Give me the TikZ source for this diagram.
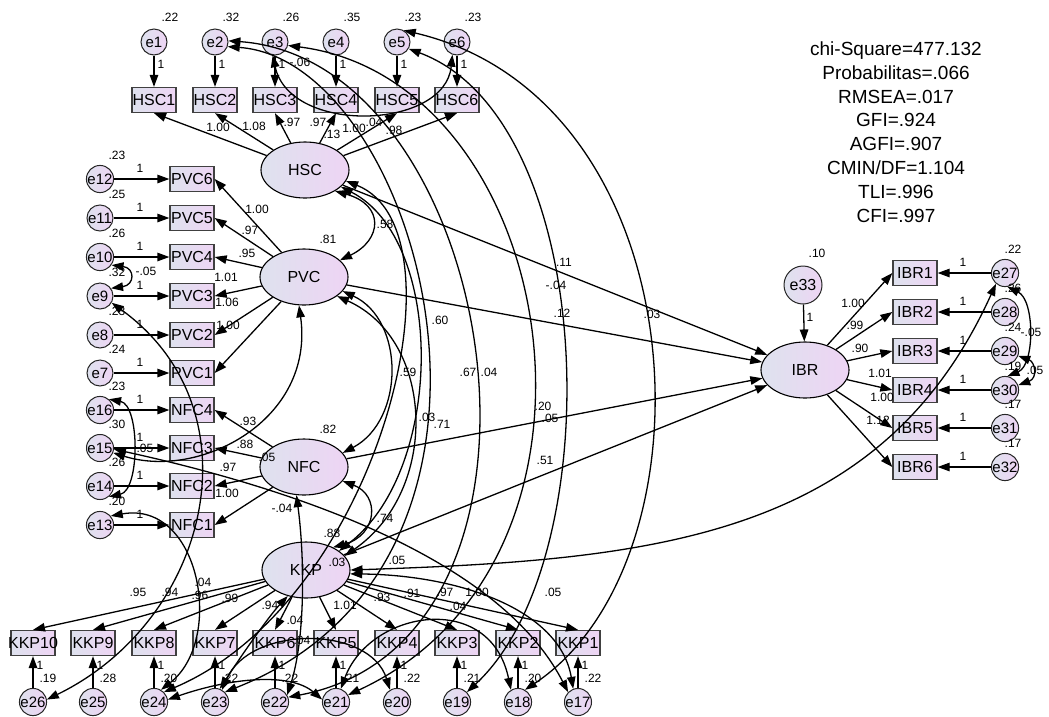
\documentclass[tikz,border=0pt]{standalone}
\usepackage{fontspec}
\setmainfont{Liberation Sans}
\usetikzlibrary{arrows.meta,shapes.geometric,shadings}
\definecolor{bl}{RGB}{222,226,238}
\definecolor{pk}{RGB}{238,212,244}
\begin{document}
\begin{tikzpicture}[x=1pt,y=-1pt,
  every node/.style={font=\fontsize{16}{19}\selectfont},
  box/.style={rectangle, draw=black!75, line width=1.3pt, minimum width=44pt, minimum height=25pt, inner sep=0pt, left color=bl, right color=pk},
  err/.style={circle, draw=black!85, line width=1pt, minimum size=26pt, inner sep=0pt, left color=bl, right color=pk, font=\fontsize{15}{17}\selectfont},
  lat/.style={ellipse, draw=black, line width=1.1pt, minimum width=88pt, minimum height=56pt, inner sep=0pt, left color=bl, right color=pk},
  arr/.style={-{Triangle[length=12pt,width=8.5pt]}, line width=1.3pt},
  cov/.style={{Triangle[length=12pt,width=8.5pt]}-{Triangle[length=12pt,width=8.5pt]}, line width=1.3pt},
  lbl/.style={font=\fontsize{12}{13}\selectfont, inner sep=0pt},
  stat/.style={font=\fontsize{19}{22}\selectfont, inner sep=0pt, anchor=base}
]
\useasboundingbox (0,0) rectangle (1049,716);

% latent variables
\node[lat] (HSC) at (305,170) {HSC};
\node[lat] (PVC) at (304,277) {PVC};
\node[lat] (NFC) at (304,467) {NFC};
\node[lat] (KKP) at (306,570) {KKP};
\node[lat] (IBR) at (805,370) {IBR};
\node[err, minimum size=38pt, font=\fontsize{16}{19}\selectfont] (e33) at (803,285) {e33};

% HSC indicators
\foreach \i/\x/\vv in {1/154/.22,2/215/.32,3/275/.26,4/336/.35,5/397/.23,6/457/.23}{
  \node[box] (HSC\i) at (\x,100) {\makebox[42pt]{HSC\i}};
  \node[err] (e\i) at (\x,42) {e\i};
  \draw[arr] (e\i) -- (HSC\i);
  \node[lbl] at (\x+16,17) {\vv};
  \node[lbl] at (\x+7,64) {1};
}
% PVC / NFC indicators
\foreach \nm/\ee/\y/\vv in {PVC6/12/179/.23,PVC5/11/218/.25,PVC4/10/257/.26,PVC3/9/296/.32,PVC2/8/335/.23,PVC1/7/373/.24,NFC4/16/410/.23,NFC3/15/448/.30,NFC2/14/486/.26,NFC1/13/525/.20}{
  \node[box] (\nm) at (192,\y) {\makebox[42pt]{\nm}};
  \node[err] (e\ee) at (100,\y) {e\ee};
  \draw[arr] (e\ee) -- (\nm);
  \node[lbl] at (140,\y-11) {1};
  \node[lbl] at (117,\y-24) {\vv};
}
% KKP indicators
\foreach \nm/\ee/\x/\vv in {KKP10/26/33/.19,KKP9/25/93/.28,KKP8/24/154/.20,KKP7/23/215/.22,KKP6/22/275/.22,KKP5/21/336/.21,KKP4/20/397/.22,KKP3/19/457/.21,KKP2/18/518/.20,KKP1/17/578/.22}{
  \node[box] (\nm) at (\x,643) {\makebox[42pt]{\nm}};
  \node[err] (e\ee) at (\x,702) {e\ee};
  \draw[arr] (e\ee) -- (\nm);
  \node[lbl] at (\x+7,665) {1};
  \node[lbl] at (\x+15,678) {\vv};
}
% IBR indicators
\foreach \k/\ee/\y/\vv in {1/27/273/.22,2/28/312/.26,3/29/351/.24,4/30/390/.19,5/31/428/.17,6/32/467/.17}{
  \node[box] (IBR\k) at (915,\y) {\makebox[42pt]{IBR\k}};
  \node[err] (e\ee) at (1005,\y) {e\ee};
  \draw[arr] (e\ee) -- (IBR\k);
  \node[lbl] at (963,\y-11) {1};
  \node[lbl] at (1013,\y-24) {\vv};
}

% loadings
\foreach \i in {1,...,6} \draw[arr] (HSC) -- (HSC\i.south);
\foreach \i in {1,...,6} \draw[arr] (PVC) -- (PVC\i.east);
\foreach \i in {1,...,4} \draw[arr] (NFC) -- (NFC\i.east);
\foreach \i in {1,...,10} \draw[arr] (KKP) -- (KKP\i.north);
\foreach \i in {1,...,6} \draw[arr] (IBR) -- (IBR\i.west);
\draw[arr] (e33) -- (IBR);

% structural paths
\draw[arr] (HSC) -- (IBR);
\draw[arr] (PVC) -- (IBR);
\draw[arr] (NFC) -- (IBR);
\draw[arr] (KKP) -- (IBR);

% latent covariances
\draw[cov] (HSC.-35) .. controls (385,205) and (382,240) .. (PVC.25);
\draw[cov] (PVC.-20) .. controls (405,320) and (405,420) .. (NFC.20);
\draw[cov] (NFC.-20) .. controls (380,495) and (378,535) .. (KKP.40);
\draw[cov] (HSC.-25) .. controls (445,240) and (445,470) .. (KKP.30);
\draw[cov] (PVC.-30) .. controls (435,340) and (440,490) .. (KKP.20);
\draw[cov] (HSC.-15) .. controls (470,230) and (380,600) .. (e24.45);

% long error covariances
\draw[cov] (e5.60) .. controls (700,100) and (720,560) .. (e18.60);
\draw[cov] (e5.-30) .. controls (600,120) and (610,560) .. (e19.45);
\draw[cov] (e3.-15) .. controls (560,80) and (640,560) .. (e21.30);
\draw[cov] (e2.5) .. controls (500,60) and (590,640) .. (e22.20);
\draw[cov] (e2.-20) .. controls (420,60) and (560,560) .. (e23.45);
\draw[cov] (e3.-100) .. controls (290,135) and (445,130) .. (e6.-110);

% bottom covariances
\draw[cov] (e24.10) .. controls (230,678) and (290,672) .. (e21.170);
\draw[cov] (e23.60) .. controls (250,625) and (370,625) .. (e20.120);
\draw[cov] (e21.70) .. controls (370,610) and (490,590) .. (e18.120);
\draw[cov] (KKP.-125) .. controls (270,615) and (245,650) .. (e23.70);
\draw[cov] (KKP.-5) .. controls (460,575) and (560,610) .. (e17.110);
\draw[cov] (KKP.0) .. controls (650,560) and (880,540) .. (e27.-130);
\draw[cov] (e15.-5) .. controls (300,490) and (500,560) .. (e17.135);
\draw[cov] (NFC.-105) .. controls (305,560) and (305,640) .. (e22.30);

% left covariances
\draw[cov] (e10.-35) .. controls (135,268) and (135,285) .. (e9.35);
\draw[cov] (e16.50) .. controls (140,405) and (140,490) .. (e14.-50);
\draw[cov] (e9.-30) .. controls (260,410) and (210,620) .. (e26.10);
\draw[cov] (e13.40) .. controls (200,500) and (225,640) .. (e24.60);
\draw[cov] (PVC.-100) .. controls (315,420) and (200,480) .. (e15.-20);

% right covariances
\draw[cov] (e27.-80) .. controls (1035,300) and (1035,365) .. (e30.80);
\draw[cov] (e29.-20) .. controls (1035,362) and (1038,378) .. (e30.20);

% labels: HSC
\node[lbl] at (218,127) {1.00};
\node[lbl] at (254,126) {1.08};
\node[lbl] at (292,122) {.97};
\node[lbl] at (318,122) {.97};
\node[lbl] at (354,128) {1.00};
\node[lbl] at (374,122) {.04};
\node[lbl] at (394,130) {.98};
\node[lbl] at (332,134) {.13};
\node[lbl] at (300,62) {-.06};
% PVC
\node[lbl] at (257,209) {1.00};
\node[lbl] at (250,230) {.97};
\node[lbl] at (247,253) {.95};
\node[lbl] at (226,277) {1.01};
\node[lbl] at (227,302) {1.06};
\node[lbl] at (228,325) {1.00};
\node[lbl] at (328,239) {.81};
\node[lbl] at (146,271) {-.05};
% NFC
\node[lbl] at (248,421) {.93};
\node[lbl] at (245,444) {.88};
\node[lbl] at (228,467) {.97};
\node[lbl] at (227,493) {1.00};
\node[lbl] at (267,457) {.05};
\node[lbl] at (328,429) {.82};
\node[lbl] at (282,508) {-.04};
\node[lbl] at (145,448) {.05};
% latent covariances
\node[lbl] at (385,224) {.58};
\node[lbl] at (408,372) {.59};
\node[lbl] at (385,518) {.74};
\node[lbl] at (440,320) {.60};
\node[lbl] at (468,372) {.67};
\node[lbl] at (489,372) {.04};
\node[lbl] at (427,417) {.03};
\node[lbl] at (442,424) {.71};
% structural
\node[lbl] at (564,262) {.11};
\node[lbl] at (556,285) {-.04};
\node[lbl] at (562,313) {.12};
\node[lbl] at (652,314) {.03};
\node[lbl] at (543,406) {.20};
\node[lbl] at (550,418) {.05};
\node[lbl] at (545,460) {.51};
% KKP
\node[lbl] at (138,592) {.95};
\node[lbl] at (170,592) {.94};
\node[lbl] at (200,595) {.96};
\node[lbl] at (203,582) {.04};
\node[lbl] at (230,598) {.99};
\node[lbl] at (270,605) {.94};
\node[lbl] at (295,620) {.04};
\node[lbl] at (302,640) {.04};
\node[lbl] at (345,605) {1.01};
\node[lbl] at (382,597) {.93};
\node[lbl] at (412,593) {.91};
\node[lbl] at (445,592) {.97};
\node[lbl] at (477,592) {1.00};
\node[lbl] at (458,606) {.04};
\node[lbl] at (337,562) {.03};
\node[lbl] at (332,533) {.88};
\node[lbl] at (397,560) {.05};
\node[lbl] at (553,592) {.05};
% IBR
\node[lbl] at (853,303) {1.00};
\node[lbl] at (855,325) {.99};
\node[lbl] at (860,348) {.90};
\node[lbl] at (880,373) {1.01};
\node[lbl] at (882,397) {1.00};
\node[lbl] at (878,420) {1.12};
\node[lbl] at (810,317) {1};
\node[lbl] at (817,253) {.10};
\node[lbl] at (1031,332) {-.05};
\node[lbl] at (1035,370) {.05};

% fit statistics
\node[stat] (s1) at (896,55) {chi-Square=477.132};
\node[stat] (s2) at (896,79) {Probabilitas=.066};
\node[stat] (s3) at (896,103) {RMSEA=.017};
\node[stat] (s4) at (896,126) {GFI=.924};
\node[stat] (s5) at (896,150) {AGFI=.907};
\node[stat] (s6) at (896,174) {CMIN/DF=1.104};
\node[stat] (s7) at (896,198) {TLI=.996};
\node[stat] (s8) at (896,222) {CFI=.997};
\end{tikzpicture}
\end{document}
